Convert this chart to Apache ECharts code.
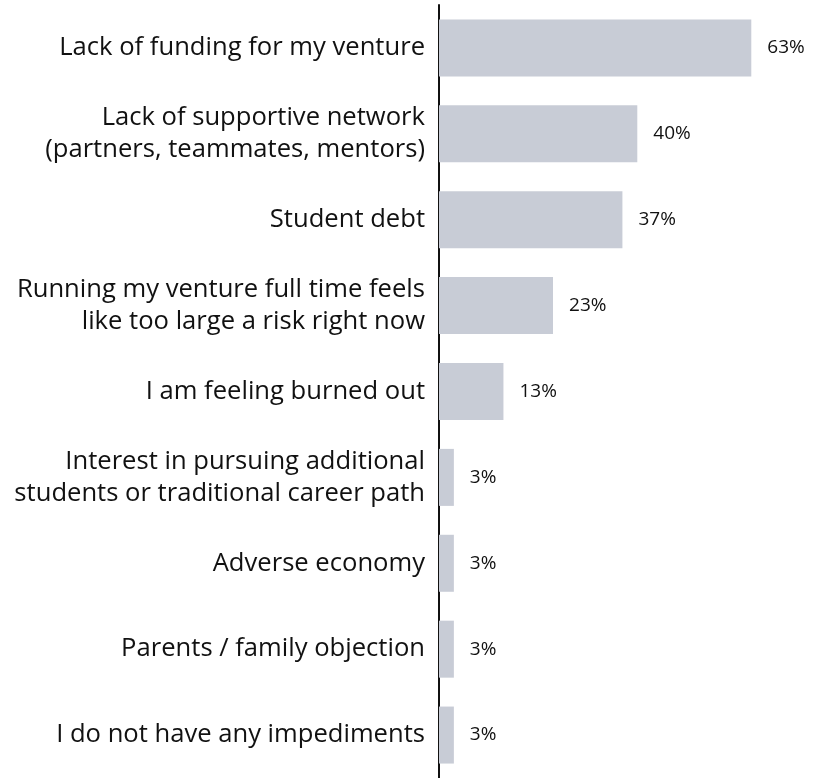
<!DOCTYPE html>
<html>
<head>
<meta charset="utf-8">
<script src="https://cdn.jsdelivr.net/npm/echarts@6/dist/echarts.min.js"></script>
<style>
  html, body { margin: 0; padding: 0; background: #fff; }
  #chart { width: 825px; height: 778px; }
</style>
</head>
<body>
<div id="chart"></div>
<script>
// categories top to bottom
const categories = [
  'Lack of funding for my venture',
  'Lack of supportive network\n(partners, teammates, mentors)',
  'Student debt',
  'Running my venture full time feels\nlike too large a risk right now',
  'I am feeling burned out',
  'Interest in pursuing additional\nstudents or traditional career path',
  'Adverse economy',
  'Parents / family objection',
  'I do not have any impediments'
];
const values = [63, 40, 37, 23, 13, 3, 3, 3, 3];

const chart = echarts.init(document.getElementById('chart'));

const option = {
  animation: false,
  grid: {
    left: 439,
    right: 39,
    top: 5,
    bottom: -3
  },
  xAxis: {
    type: 'value',
    min: 0,
    max: 70,
    show: false
  },
  yAxis: {
    type: 'category',
    inverse: true,
    data: categories,
    axisTick: { show: false },
    axisLine: {
      show: true,
      lineStyle: { color: '#111', width: 2 }
    },
    axisLabel: {
      margin: 14,
      fontFamily: 'Open Sans',
      fontSize: 25.6,
      lineHeight: 32,
      color: '#111',
      align: 'right'
    },
    splitLine: { show: false }
  },
  series: [{
    type: 'bar',
    data: values,
    barWidth: 57,
    itemStyle: { color: '#c8ccd6' },
    label: {
      show: true,
      position: 'right',
      distance: 16,
      formatter: '{c}%',
      fontFamily: 'Open Sans',
      fontSize: 19,
      color: '#111'
    }
  }]
};

chart.setOption(option);
</script>
</body>
</html>
